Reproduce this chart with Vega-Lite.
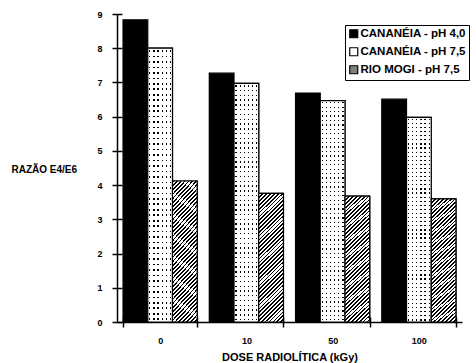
{
  "$schema": "https://vega.github.io/schema/vega-lite/v6.json",
  "width": 345,
  "height": 308,
  "autosize": {"type": "none"},
  "padding": {"left": 117, "top": 14, "right": 14, "bottom": 41},
  "background": "white",
  "config": {
    "view": {"stroke": null},
    "font": "Liberation Sans",
    "axis": {"labelFont": "Liberation Sans", "titleFont": "Liberation Sans", "labelFontWeight": "bold", "titleFontWeight": "bold", "labelColor": "black", "titleColor": "black", "domainColor": "black", "tickColor": "black", "domainWidth": 1.5, "tickWidth": 1.5, "gridColor": "black", "gridWidth": 1.5, "gridOpacity": 1}
  },
  "data": {
    "values": [
      {"dose": "0", "serie": "CANANÉIA - pH 4,0", "razao": 8.83},
      {"dose": "10", "serie": "CANANÉIA - pH 4,0", "razao": 7.27},
      {"dose": "50", "serie": "CANANÉIA - pH 4,0", "razao": 6.69},
      {"dose": "100", "serie": "CANANÉIA - pH 4,0", "razao": 6.51},
      {"dose": "0", "serie": "CANANÉIA - pH 7,5", "razao": 8.0},
      {"dose": "10", "serie": "CANANÉIA - pH 7,5", "razao": 6.97},
      {"dose": "50", "serie": "CANANÉIA - pH 7,5", "razao": 6.47},
      {"dose": "100", "serie": "CANANÉIA - pH 7,5", "razao": 5.98},
      {"dose": "0", "serie": "RIO MOGI - pH 7,5", "razao": 4.12},
      {"dose": "10", "serie": "RIO MOGI - pH 7,5", "razao": 3.76},
      {"dose": "50", "serie": "RIO MOGI - pH 7,5", "razao": 3.68},
      {"dose": "100", "serie": "RIO MOGI - pH 7,5", "razao": 3.6}
    ]
  },
  "encoding": {
    "x": {
      "field": "dose", "type": "nominal", "sort": ["0", "10", "50", "100"],
      "scale": {"paddingInner": 0.14, "paddingOuter": 0.07},
      "axis": {"title": "DOSE RADIOLÍTICA (kGy)", "labelAngle": 0, "labelFontSize": 9, "labelPadding": 9, "tickBand": "extent", "tickSize": 5, "grid": true, "gridDash": [0, 303, 5, 1000], "titleFontSize": 11, "titlePadding": 6}
    },
    "xOffset": {
      "field": "serie", "type": "nominal",
      "scale": {"domain": ["CANANÉIA - pH 4,0", "CANANÉIA - pH 7,5", "RIO MOGI - pH 7,5"], "paddingInner": 0, "paddingOuter": 0}
    },
    "y": {
      "field": "razao", "type": "quantitative",
      "scale": {"domain": [0, 9], "nice": false},
      "axis": {"title": "RAZÃO E4/E6", "values": [0, 1, 2, 3, 4, 5, 6, 7, 8, 9], "labelFontSize": 9, "labelPadding": 10, "tickSize": 5, "grid": true, "gridDash": [5, 1000], "titleAngle": 0, "titleX": -106, "titleY": 155, "titleAlign": "left", "titleBaseline": "middle", "titleFontSize": 10}
    }
  },
  "layer": [
    {
      "mark": {"type": "bar", "stroke": "black", "strokeWidth": 1.2},
      "encoding": {
        "color": {
          "field": "serie", "type": "nominal",
          "scale": {"domain": ["CANANÉIA - pH 4,0", "CANANÉIA - pH 7,5", "RIO MOGI - pH 7,5"], "range": ["#000000", "#ffffff", "#808080"]},
          "legend": {"orient": "none", "legendX": 228, "legendY": 11, "title": null, "strokeColor": "black", "fillColor": "white", "padding": 3, "symbolType": "square", "symbolSize": 64, "symbolStrokeColor": "black", "symbolStrokeWidth": 1, "labelFont": "Liberation Sans", "labelFontWeight": "bold", "labelFontSize": 11.5, "labelColor": "black", "rowPadding": 4, "labelOffset": 1,
            "encode": {"symbols": {"update": {
              "stroke": {"value": "black"},
              "strokeWidth": {"value": 1.2},
              "fill": [
              {"test": "datum.value === 'RIO MOGI - pH 7,5'", "value": {"gradient": "linear", "x1": 0, "y1": 0, "x2": 1, "y2": 1, "stops": [
                {"offset": 0, "color": "#000"}, {"offset": 0.16, "color": "#000"}, {"offset": 0.16, "color": "#fff"}, {"offset": 0.333, "color": "#fff"},
                {"offset": 0.333, "color": "#000"}, {"offset": 0.5, "color": "#000"}, {"offset": 0.5, "color": "#fff"}, {"offset": 0.667, "color": "#fff"},
                {"offset": 0.667, "color": "#000"}, {"offset": 0.83, "color": "#000"}, {"offset": 0.83, "color": "#fff"}, {"offset": 1, "color": "#fff"}
              ]}},
              {"scale": "color", "field": "value"}
            ]}}}
          }
        }
      }
    },
    {
      "transform": [{"filter": "datum.serie === 'CANANÉIA - pH 7,5'"}],
      "mark": {"type": "bar", "fill": "black"}
    },
    {
      "transform": [{"filter": "datum.serie === 'CANANÉIA - pH 7,5'"}],
      "mark": {"type": "bar", "fill": {"gradient": "linear", "x1": 0, "y1": 0, "x2": 0, "y2": 1, "stops": [
        {"offset": 0, "color": "#fff"},
        {"offset": 0.007, "color": "#fff"}, {"offset": 0.007, "color": "rgba(255,255,255,0)"}, {"offset": 0.013, "color": "rgba(255,255,255,0)"}, {"offset": 0.013, "color": "#fff"},
        {"offset": 0.027, "color": "#fff"}, {"offset": 0.027, "color": "rgba(255,255,255,0)"}, {"offset": 0.033, "color": "rgba(255,255,255,0)"}, {"offset": 0.033, "color": "#fff"},
        {"offset": 0.047, "color": "#fff"}, {"offset": 0.047, "color": "rgba(255,255,255,0)"}, {"offset": 0.053, "color": "rgba(255,255,255,0)"}, {"offset": 0.053, "color": "#fff"},
        {"offset": 0.067, "color": "#fff"}, {"offset": 0.067, "color": "rgba(255,255,255,0)"}, {"offset": 0.073, "color": "rgba(255,255,255,0)"}, {"offset": 0.073, "color": "#fff"},
        {"offset": 0.087, "color": "#fff"}, {"offset": 0.087, "color": "rgba(255,255,255,0)"}, {"offset": 0.093, "color": "rgba(255,255,255,0)"}, {"offset": 0.093, "color": "#fff"},
        {"offset": 0.107, "color": "#fff"}, {"offset": 0.107, "color": "rgba(255,255,255,0)"}, {"offset": 0.113, "color": "rgba(255,255,255,0)"}, {"offset": 0.113, "color": "#fff"},
        {"offset": 0.127, "color": "#fff"}, {"offset": 0.127, "color": "rgba(255,255,255,0)"}, {"offset": 0.133, "color": "rgba(255,255,255,0)"}, {"offset": 0.133, "color": "#fff"},
        {"offset": 0.147, "color": "#fff"}, {"offset": 0.147, "color": "rgba(255,255,255,0)"}, {"offset": 0.153, "color": "rgba(255,255,255,0)"}, {"offset": 0.153, "color": "#fff"},
        {"offset": 0.167, "color": "#fff"}, {"offset": 0.167, "color": "rgba(255,255,255,0)"}, {"offset": 0.173, "color": "rgba(255,255,255,0)"}, {"offset": 0.173, "color": "#fff"},
        {"offset": 0.187, "color": "#fff"}, {"offset": 0.187, "color": "rgba(255,255,255,0)"}, {"offset": 0.193, "color": "rgba(255,255,255,0)"}, {"offset": 0.193, "color": "#fff"},
        {"offset": 0.207, "color": "#fff"}, {"offset": 0.207, "color": "rgba(255,255,255,0)"}, {"offset": 0.213, "color": "rgba(255,255,255,0)"}, {"offset": 0.213, "color": "#fff"},
        {"offset": 0.227, "color": "#fff"}, {"offset": 0.227, "color": "rgba(255,255,255,0)"}, {"offset": 0.233, "color": "rgba(255,255,255,0)"}, {"offset": 0.233, "color": "#fff"},
        {"offset": 0.247, "color": "#fff"}, {"offset": 0.247, "color": "rgba(255,255,255,0)"}, {"offset": 0.253, "color": "rgba(255,255,255,0)"}, {"offset": 0.253, "color": "#fff"},
        {"offset": 0.267, "color": "#fff"}, {"offset": 0.267, "color": "rgba(255,255,255,0)"}, {"offset": 0.273, "color": "rgba(255,255,255,0)"}, {"offset": 0.273, "color": "#fff"},
        {"offset": 0.287, "color": "#fff"}, {"offset": 0.287, "color": "rgba(255,255,255,0)"}, {"offset": 0.293, "color": "rgba(255,255,255,0)"}, {"offset": 0.293, "color": "#fff"},
        {"offset": 0.307, "color": "#fff"}, {"offset": 0.307, "color": "rgba(255,255,255,0)"}, {"offset": 0.313, "color": "rgba(255,255,255,0)"}, {"offset": 0.313, "color": "#fff"},
        {"offset": 0.327, "color": "#fff"}, {"offset": 0.327, "color": "rgba(255,255,255,0)"}, {"offset": 0.333, "color": "rgba(255,255,255,0)"}, {"offset": 0.333, "color": "#fff"},
        {"offset": 0.347, "color": "#fff"}, {"offset": 0.347, "color": "rgba(255,255,255,0)"}, {"offset": 0.353, "color": "rgba(255,255,255,0)"}, {"offset": 0.353, "color": "#fff"},
        {"offset": 0.367, "color": "#fff"}, {"offset": 0.367, "color": "rgba(255,255,255,0)"}, {"offset": 0.373, "color": "rgba(255,255,255,0)"}, {"offset": 0.373, "color": "#fff"},
        {"offset": 0.387, "color": "#fff"}, {"offset": 0.387, "color": "rgba(255,255,255,0)"}, {"offset": 0.393, "color": "rgba(255,255,255,0)"}, {"offset": 0.393, "color": "#fff"},
        {"offset": 0.407, "color": "#fff"}, {"offset": 0.407, "color": "rgba(255,255,255,0)"}, {"offset": 0.413, "color": "rgba(255,255,255,0)"}, {"offset": 0.413, "color": "#fff"},
        {"offset": 0.427, "color": "#fff"}, {"offset": 0.427, "color": "rgba(255,255,255,0)"}, {"offset": 0.433, "color": "rgba(255,255,255,0)"}, {"offset": 0.433, "color": "#fff"},
        {"offset": 0.447, "color": "#fff"}, {"offset": 0.447, "color": "rgba(255,255,255,0)"}, {"offset": 0.453, "color": "rgba(255,255,255,0)"}, {"offset": 0.453, "color": "#fff"},
        {"offset": 0.467, "color": "#fff"}, {"offset": 0.467, "color": "rgba(255,255,255,0)"}, {"offset": 0.473, "color": "rgba(255,255,255,0)"}, {"offset": 0.473, "color": "#fff"},
        {"offset": 0.487, "color": "#fff"}, {"offset": 0.487, "color": "rgba(255,255,255,0)"}, {"offset": 0.493, "color": "rgba(255,255,255,0)"}, {"offset": 0.493, "color": "#fff"},
        {"offset": 0.507, "color": "#fff"}, {"offset": 0.507, "color": "rgba(255,255,255,0)"}, {"offset": 0.513, "color": "rgba(255,255,255,0)"}, {"offset": 0.513, "color": "#fff"},
        {"offset": 0.527, "color": "#fff"}, {"offset": 0.527, "color": "rgba(255,255,255,0)"}, {"offset": 0.533, "color": "rgba(255,255,255,0)"}, {"offset": 0.533, "color": "#fff"},
        {"offset": 0.547, "color": "#fff"}, {"offset": 0.547, "color": "rgba(255,255,255,0)"}, {"offset": 0.553, "color": "rgba(255,255,255,0)"}, {"offset": 0.553, "color": "#fff"},
        {"offset": 0.567, "color": "#fff"}, {"offset": 0.567, "color": "rgba(255,255,255,0)"}, {"offset": 0.573, "color": "rgba(255,255,255,0)"}, {"offset": 0.573, "color": "#fff"},
        {"offset": 0.587, "color": "#fff"}, {"offset": 0.587, "color": "rgba(255,255,255,0)"}, {"offset": 0.593, "color": "rgba(255,255,255,0)"}, {"offset": 0.593, "color": "#fff"},
        {"offset": 0.607, "color": "#fff"}, {"offset": 0.607, "color": "rgba(255,255,255,0)"}, {"offset": 0.613, "color": "rgba(255,255,255,0)"}, {"offset": 0.613, "color": "#fff"},
        {"offset": 0.627, "color": "#fff"}, {"offset": 0.627, "color": "rgba(255,255,255,0)"}, {"offset": 0.633, "color": "rgba(255,255,255,0)"}, {"offset": 0.633, "color": "#fff"},
        {"offset": 0.647, "color": "#fff"}, {"offset": 0.647, "color": "rgba(255,255,255,0)"}, {"offset": 0.653, "color": "rgba(255,255,255,0)"}, {"offset": 0.653, "color": "#fff"},
        {"offset": 0.667, "color": "#fff"}, {"offset": 0.667, "color": "rgba(255,255,255,0)"}, {"offset": 0.673, "color": "rgba(255,255,255,0)"}, {"offset": 0.673, "color": "#fff"},
        {"offset": 0.687, "color": "#fff"}, {"offset": 0.687, "color": "rgba(255,255,255,0)"}, {"offset": 0.693, "color": "rgba(255,255,255,0)"}, {"offset": 0.693, "color": "#fff"},
        {"offset": 0.707, "color": "#fff"}, {"offset": 0.707, "color": "rgba(255,255,255,0)"}, {"offset": 0.713, "color": "rgba(255,255,255,0)"}, {"offset": 0.713, "color": "#fff"},
        {"offset": 0.727, "color": "#fff"}, {"offset": 0.727, "color": "rgba(255,255,255,0)"}, {"offset": 0.733, "color": "rgba(255,255,255,0)"}, {"offset": 0.733, "color": "#fff"},
        {"offset": 0.747, "color": "#fff"}, {"offset": 0.747, "color": "rgba(255,255,255,0)"}, {"offset": 0.753, "color": "rgba(255,255,255,0)"}, {"offset": 0.753, "color": "#fff"},
        {"offset": 0.767, "color": "#fff"}, {"offset": 0.767, "color": "rgba(255,255,255,0)"}, {"offset": 0.773, "color": "rgba(255,255,255,0)"}, {"offset": 0.773, "color": "#fff"},
        {"offset": 0.787, "color": "#fff"}, {"offset": 0.787, "color": "rgba(255,255,255,0)"}, {"offset": 0.793, "color": "rgba(255,255,255,0)"}, {"offset": 0.793, "color": "#fff"},
        {"offset": 0.807, "color": "#fff"}, {"offset": 0.807, "color": "rgba(255,255,255,0)"}, {"offset": 0.813, "color": "rgba(255,255,255,0)"}, {"offset": 0.813, "color": "#fff"},
        {"offset": 0.827, "color": "#fff"}, {"offset": 0.827, "color": "rgba(255,255,255,0)"}, {"offset": 0.833, "color": "rgba(255,255,255,0)"}, {"offset": 0.833, "color": "#fff"},
        {"offset": 0.847, "color": "#fff"}, {"offset": 0.847, "color": "rgba(255,255,255,0)"}, {"offset": 0.853, "color": "rgba(255,255,255,0)"}, {"offset": 0.853, "color": "#fff"},
        {"offset": 0.867, "color": "#fff"}, {"offset": 0.867, "color": "rgba(255,255,255,0)"}, {"offset": 0.873, "color": "rgba(255,255,255,0)"}, {"offset": 0.873, "color": "#fff"},
        {"offset": 0.887, "color": "#fff"}, {"offset": 0.887, "color": "rgba(255,255,255,0)"}, {"offset": 0.893, "color": "rgba(255,255,255,0)"}, {"offset": 0.893, "color": "#fff"},
        {"offset": 0.907, "color": "#fff"}, {"offset": 0.907, "color": "rgba(255,255,255,0)"}, {"offset": 0.913, "color": "rgba(255,255,255,0)"}, {"offset": 0.913, "color": "#fff"},
        {"offset": 0.927, "color": "#fff"}, {"offset": 0.927, "color": "rgba(255,255,255,0)"}, {"offset": 0.933, "color": "rgba(255,255,255,0)"}, {"offset": 0.933, "color": "#fff"},
        {"offset": 0.947, "color": "#fff"}, {"offset": 0.947, "color": "rgba(255,255,255,0)"}, {"offset": 0.953, "color": "rgba(255,255,255,0)"}, {"offset": 0.953, "color": "#fff"},
        {"offset": 0.967, "color": "#fff"}, {"offset": 0.967, "color": "rgba(255,255,255,0)"}, {"offset": 0.973, "color": "rgba(255,255,255,0)"}, {"offset": 0.973, "color": "#fff"},
        {"offset": 0.987, "color": "#fff"}, {"offset": 0.987, "color": "rgba(255,255,255,0)"}, {"offset": 0.993, "color": "rgba(255,255,255,0)"}, {"offset": 0.993, "color": "#fff"},
        {"offset": 1, "color": "#fff"}
      ]}}
    },
    {
      "transform": [{"filter": "datum.serie === 'CANANÉIA - pH 7,5'"}],
      "mark": {"type": "bar", "stroke": "black", "strokeWidth": 1.2, "fill": {"gradient": "linear", "x1": 0, "y1": 0, "x2": 1, "y2": 0, "stops": [
        {"offset": 0, "color": "#fff"},
        {"offset": 0.0583, "color": "#fff"}, {"offset": 0.0583, "color": "rgba(255,255,255,0)"}, {"offset": 0.1083, "color": "rgba(255,255,255,0)"}, {"offset": 0.1083, "color": "#fff"},
        {"offset": 0.225, "color": "#fff"}, {"offset": 0.225, "color": "rgba(255,255,255,0)"}, {"offset": 0.275, "color": "rgba(255,255,255,0)"}, {"offset": 0.275, "color": "#fff"},
        {"offset": 0.3917, "color": "#fff"}, {"offset": 0.3917, "color": "rgba(255,255,255,0)"}, {"offset": 0.4417, "color": "rgba(255,255,255,0)"}, {"offset": 0.4417, "color": "#fff"},
        {"offset": 0.5583, "color": "#fff"}, {"offset": 0.5583, "color": "rgba(255,255,255,0)"}, {"offset": 0.6083, "color": "rgba(255,255,255,0)"}, {"offset": 0.6083, "color": "#fff"},
        {"offset": 0.725, "color": "#fff"}, {"offset": 0.725, "color": "rgba(255,255,255,0)"}, {"offset": 0.775, "color": "rgba(255,255,255,0)"}, {"offset": 0.775, "color": "#fff"},
        {"offset": 0.8917, "color": "#fff"}, {"offset": 0.8917, "color": "rgba(255,255,255,0)"}, {"offset": 0.9417, "color": "rgba(255,255,255,0)"}, {"offset": 0.9417, "color": "#fff"},
        {"offset": 1, "color": "#fff"}
      ]}}
    },
    {
      "transform": [{"filter": "datum.serie === 'RIO MOGI - pH 7,5'"}],
      "mark": {"type": "bar", "stroke": "black", "strokeWidth": 1.2, "fill": {"gradient": "linear", "x1": 0, "y1": 0, "x2": 0.2185, "y2": 1.15, "stops": [
        {"offset": 0, "color": "#000"}, {"offset": 0.011, "color": "#000"}, {"offset": 0.011, "color": "#fff"}, {"offset": 0.025, "color": "#fff"},
        {"offset": 0.025, "color": "#000"}, {"offset": 0.036, "color": "#000"}, {"offset": 0.036, "color": "#fff"}, {"offset": 0.05, "color": "#fff"},
        {"offset": 0.05, "color": "#000"}, {"offset": 0.061, "color": "#000"}, {"offset": 0.061, "color": "#fff"}, {"offset": 0.075, "color": "#fff"},
        {"offset": 0.075, "color": "#000"}, {"offset": 0.086, "color": "#000"}, {"offset": 0.086, "color": "#fff"}, {"offset": 0.1, "color": "#fff"},
        {"offset": 0.1, "color": "#000"}, {"offset": 0.111, "color": "#000"}, {"offset": 0.111, "color": "#fff"}, {"offset": 0.125, "color": "#fff"},
        {"offset": 0.125, "color": "#000"}, {"offset": 0.136, "color": "#000"}, {"offset": 0.136, "color": "#fff"}, {"offset": 0.15, "color": "#fff"},
        {"offset": 0.15, "color": "#000"}, {"offset": 0.161, "color": "#000"}, {"offset": 0.161, "color": "#fff"}, {"offset": 0.175, "color": "#fff"},
        {"offset": 0.175, "color": "#000"}, {"offset": 0.186, "color": "#000"}, {"offset": 0.186, "color": "#fff"}, {"offset": 0.2, "color": "#fff"},
        {"offset": 0.2, "color": "#000"}, {"offset": 0.211, "color": "#000"}, {"offset": 0.211, "color": "#fff"}, {"offset": 0.225, "color": "#fff"},
        {"offset": 0.225, "color": "#000"}, {"offset": 0.236, "color": "#000"}, {"offset": 0.236, "color": "#fff"}, {"offset": 0.25, "color": "#fff"},
        {"offset": 0.25, "color": "#000"}, {"offset": 0.261, "color": "#000"}, {"offset": 0.261, "color": "#fff"}, {"offset": 0.275, "color": "#fff"},
        {"offset": 0.275, "color": "#000"}, {"offset": 0.286, "color": "#000"}, {"offset": 0.286, "color": "#fff"}, {"offset": 0.3, "color": "#fff"},
        {"offset": 0.3, "color": "#000"}, {"offset": 0.311, "color": "#000"}, {"offset": 0.311, "color": "#fff"}, {"offset": 0.325, "color": "#fff"},
        {"offset": 0.325, "color": "#000"}, {"offset": 0.336, "color": "#000"}, {"offset": 0.336, "color": "#fff"}, {"offset": 0.35, "color": "#fff"},
        {"offset": 0.35, "color": "#000"}, {"offset": 0.361, "color": "#000"}, {"offset": 0.361, "color": "#fff"}, {"offset": 0.375, "color": "#fff"},
        {"offset": 0.375, "color": "#000"}, {"offset": 0.386, "color": "#000"}, {"offset": 0.386, "color": "#fff"}, {"offset": 0.4, "color": "#fff"},
        {"offset": 0.4, "color": "#000"}, {"offset": 0.411, "color": "#000"}, {"offset": 0.411, "color": "#fff"}, {"offset": 0.425, "color": "#fff"},
        {"offset": 0.425, "color": "#000"}, {"offset": 0.436, "color": "#000"}, {"offset": 0.436, "color": "#fff"}, {"offset": 0.45, "color": "#fff"},
        {"offset": 0.45, "color": "#000"}, {"offset": 0.461, "color": "#000"}, {"offset": 0.461, "color": "#fff"}, {"offset": 0.475, "color": "#fff"},
        {"offset": 0.475, "color": "#000"}, {"offset": 0.486, "color": "#000"}, {"offset": 0.486, "color": "#fff"}, {"offset": 0.5, "color": "#fff"},
        {"offset": 0.5, "color": "#000"}, {"offset": 0.511, "color": "#000"}, {"offset": 0.511, "color": "#fff"}, {"offset": 0.525, "color": "#fff"},
        {"offset": 0.525, "color": "#000"}, {"offset": 0.536, "color": "#000"}, {"offset": 0.536, "color": "#fff"}, {"offset": 0.55, "color": "#fff"},
        {"offset": 0.55, "color": "#000"}, {"offset": 0.561, "color": "#000"}, {"offset": 0.561, "color": "#fff"}, {"offset": 0.575, "color": "#fff"},
        {"offset": 0.575, "color": "#000"}, {"offset": 0.586, "color": "#000"}, {"offset": 0.586, "color": "#fff"}, {"offset": 0.6, "color": "#fff"},
        {"offset": 0.6, "color": "#000"}, {"offset": 0.611, "color": "#000"}, {"offset": 0.611, "color": "#fff"}, {"offset": 0.625, "color": "#fff"},
        {"offset": 0.625, "color": "#000"}, {"offset": 0.636, "color": "#000"}, {"offset": 0.636, "color": "#fff"}, {"offset": 0.65, "color": "#fff"},
        {"offset": 0.65, "color": "#000"}, {"offset": 0.661, "color": "#000"}, {"offset": 0.661, "color": "#fff"}, {"offset": 0.675, "color": "#fff"},
        {"offset": 0.675, "color": "#000"}, {"offset": 0.686, "color": "#000"}, {"offset": 0.686, "color": "#fff"}, {"offset": 0.7, "color": "#fff"},
        {"offset": 0.7, "color": "#000"}, {"offset": 0.711, "color": "#000"}, {"offset": 0.711, "color": "#fff"}, {"offset": 0.725, "color": "#fff"},
        {"offset": 0.725, "color": "#000"}, {"offset": 0.736, "color": "#000"}, {"offset": 0.736, "color": "#fff"}, {"offset": 0.75, "color": "#fff"},
        {"offset": 0.75, "color": "#000"}, {"offset": 0.761, "color": "#000"}, {"offset": 0.761, "color": "#fff"}, {"offset": 0.775, "color": "#fff"},
        {"offset": 0.775, "color": "#000"}, {"offset": 0.786, "color": "#000"}, {"offset": 0.786, "color": "#fff"}, {"offset": 0.8, "color": "#fff"},
        {"offset": 0.8, "color": "#000"}, {"offset": 0.811, "color": "#000"}, {"offset": 0.811, "color": "#fff"}, {"offset": 0.825, "color": "#fff"},
        {"offset": 0.825, "color": "#000"}, {"offset": 0.836, "color": "#000"}, {"offset": 0.836, "color": "#fff"}, {"offset": 0.85, "color": "#fff"},
        {"offset": 0.85, "color": "#000"}, {"offset": 0.861, "color": "#000"}, {"offset": 0.861, "color": "#fff"}, {"offset": 0.875, "color": "#fff"},
        {"offset": 0.875, "color": "#000"}, {"offset": 0.886, "color": "#000"}, {"offset": 0.886, "color": "#fff"}, {"offset": 0.9, "color": "#fff"},
        {"offset": 0.9, "color": "#000"}, {"offset": 0.911, "color": "#000"}, {"offset": 0.911, "color": "#fff"}, {"offset": 0.925, "color": "#fff"},
        {"offset": 0.925, "color": "#000"}, {"offset": 0.936, "color": "#000"}, {"offset": 0.936, "color": "#fff"}, {"offset": 0.95, "color": "#fff"},
        {"offset": 0.95, "color": "#000"}, {"offset": 0.961, "color": "#000"}, {"offset": 0.961, "color": "#fff"}, {"offset": 0.975, "color": "#fff"},
        {"offset": 0.975, "color": "#000"}, {"offset": 0.986, "color": "#000"}, {"offset": 0.986, "color": "#fff"}, {"offset": 1, "color": "#fff"}
      ]}}
    }
  ]
}
